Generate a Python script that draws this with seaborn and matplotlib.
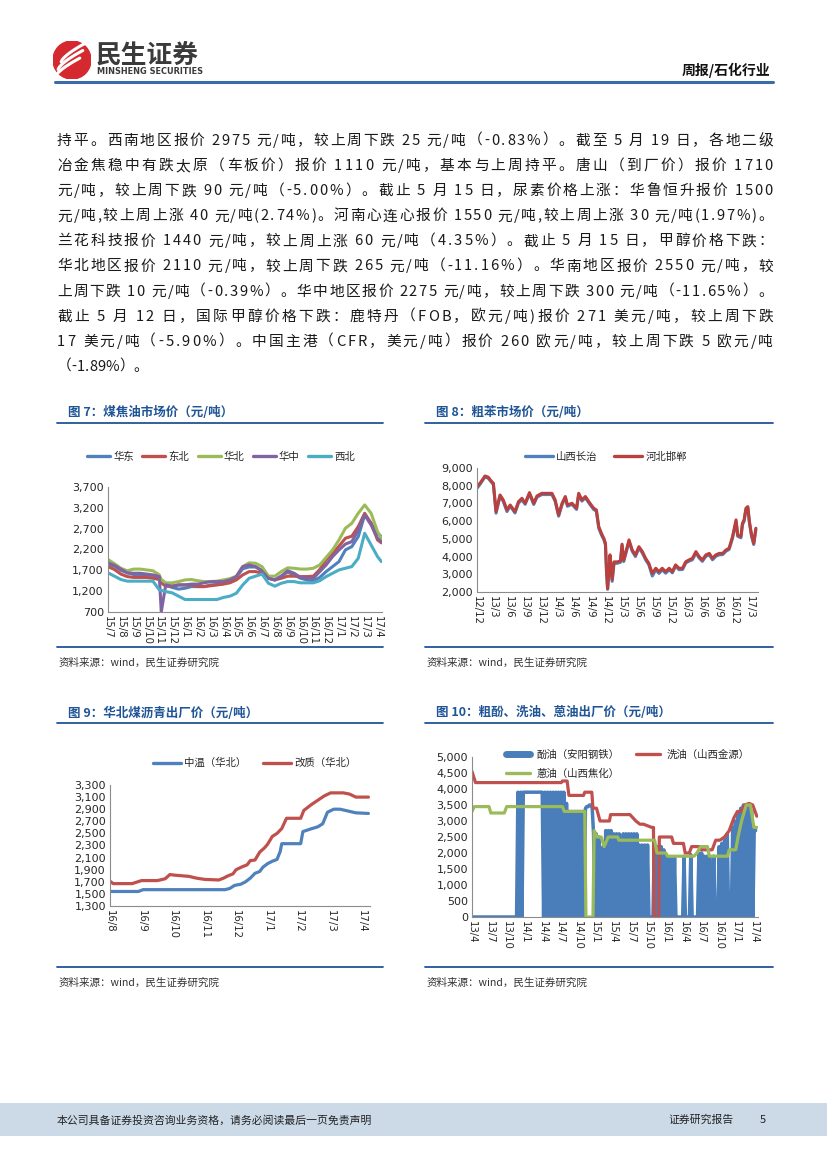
# =============================================================================
# Packages
# =============================================================================
import numpy as np
import matplotlib
matplotlib.use('Agg')
import matplotlib.pyplot as plt
import seaborn as sns
from matplotlib.lines import Line2D
from matplotlib.patches import Circle, Rectangle

# =============================================================================
# Data
# =============================================================================
# Fig 7: coal tar prices, months counted from 2015-07
coal_tar_month = [0, 0.5, 1, 1.5, 2, 2.5, 3, 3.5, 4, 4.15, 4.5, 5, 5.5, 6, 6.5, 7, 7.5, 8, 8.5, 9,
                  9.5, 10, 10.5, 11, 11.5, 12, 12.5, 13, 13.5, 14, 14.5, 15, 15.5, 16, 16.5, 17,
                  17.5, 18, 18.5, 19, 19.5, 20, 20.5, 21, 21.3]
coal_tar_east = [1850, 1800, 1700, 1640, 1600, 1590, 1580, 1580, 1530, 1470, 1350, 1290, 1250, 1270,
                 1310, 1310, 1310, 1350, 1360, 1380, 1430, 1530, 1740, 1780, 1780, 1700, 1510, 1470,
                 1560, 1660, 1590, 1510, 1470, 1450, 1530, 1670, 1790, 1910, 2190, 2270, 2510, 3030,
                 2830, 2590, 2510]
coal_tar_northeast = [1790, 1720, 1610, 1550, 1530, 1530, 1530, 1510, 1480, 1400, 1320, 1320, 1350,
                      1350, 1350, 1310, 1310, 1330, 1350, 1370, 1400, 1470, 1590, 1670, 1670, 1630,
                      1510, 1470, 1510, 1560, 1560, 1550, 1550, 1560, 1720, 1950, 2110, 2280, 2470,
                      2520, 2750, 3070, 2830, 2430, 2360]
coal_tar_north = [1960, 1860, 1750, 1690, 1730, 1730, 1710, 1690, 1590, 1480, 1400, 1400, 1430, 1470,
                  1480, 1450, 1430, 1430, 1440, 1470, 1500, 1560, 1790, 1880, 1870, 1790, 1560, 1560,
                  1670, 1760, 1750, 1730, 1730, 1750, 1830, 2010, 2190, 2430, 2710, 2830, 3070, 3270,
                  3070, 2630, 2470]
coal_tar_central = [1880, 1820, 1730, 1640, 1630, 1630, 1610, 1590, 1550, 700, 1350, 1320, 1350, 1350,
                    1370, 1370, 1400, 1430, 1430, 1430, 1470, 1550, 1790, 1830, 1790, 1680, 1510, 1470,
                    1560, 1690, 1630, 1530, 1510, 1510, 1670, 1830, 2030, 2190, 2330, 2390, 2670, 3030,
                    2790, 2470, 2390]
coal_tar_northwest = [1640, 1560, 1480, 1440, 1440, 1440, 1440, 1440, 1230, 1220, 1190, 1160, 1080,
                      1000, 1000, 1000, 1000, 1000, 1000, 1050, 1080, 1150, 1350, 1510, 1560, 1610,
                      1390, 1320, 1390, 1430, 1430, 1400, 1400, 1400, 1450, 1550, 1630, 1710, 1750,
                      1790, 1990, 2590, 2310, 2030, 1910]

# Fig 8: crude benzene, months counted from 2012-12
benzene_month = [0, 0.56, 1.5, 2.1, 2.75, 3.06, 3.56, 4.3, 4.9, 5.6,
                 6.2, 7.1, 7.75, 8.4, 9.0, 9.8, 10.6, 11.2, 12.1, 13.4,
                 14.0, 14.6, 15.25, 15.9, 16.5, 16.9, 17.75, 18.6, 19.0, 19.6,
                 20.25, 21.1, 21.8, 22.3, 22.75, 23.25, 23.7, 24.0, 24.2, 24.4,
                 24.6, 24.85, 25.25, 25.6, 26.2, 26.8, 27.1, 27.4, 27.75, 28.4,
                 29.0, 29.6, 30.25, 30.9, 31.5, 32.1, 32.75, 33.4, 34.0, 34.6,
                 35.25, 35.9, 36.5, 37.1, 37.75, 38.4, 39.0, 39.6, 40.25, 40.9,
                 41.5, 42.1, 42.75, 43.4, 44.0, 44.6, 45.25, 45.9, 46.5, 47.1,
                 47.75, 48.4, 48.7, 49.3, 49.6, 49.9, 50.25, 50.6, 50.9, 51.3,
                 51.7, 52.1]
benzene_shanxi = [7850, 8080, 8500, 8420, 8180, 8060, 6450, 7400, 7120, 6540,
                  6850, 6460, 7020, 7200, 6950, 7540, 6940, 7350, 7500, 7500,
                  7500, 7120, 6280, 6940, 7320, 6840, 6950, 6660, 7500, 7130,
                  7320, 6940, 6660, 6560, 5600, 5220, 4950, 4650, 3100, 2150,
                  2900, 4000, 2600, 3620, 3620, 3680, 4620, 3720, 4100, 4850,
                  4300, 4000, 4480, 4200, 3820, 3540, 2900, 3250, 3050, 3250,
                  3060, 3260, 3080, 3460, 3260, 3270, 3640, 3740, 3820, 4200,
                  3920, 3730, 4010, 4100, 3820, 4010, 4100, 4110, 4300, 4400,
                  5050, 5980, 5150, 5060, 5800, 5990, 6650, 6740, 5890, 5140,
                  4680, 5520]
benzene_hebei = [7950, 8140, 8550, 8480, 8230, 8140, 6540, 7480, 7200, 6630,
                 6910, 6540, 7100, 7290, 7010, 7610, 7010, 7420, 7570, 7570,
                 7570, 7200, 6350, 7010, 7390, 6910, 7010, 6730, 7570, 7200,
                 7390, 7010, 6730, 6630, 5690, 5310, 5030, 4750, 3200, 2200,
                 3000, 4100, 2700, 3700, 3700, 3750, 4700, 3800, 4180, 4940,
                 4370, 4090, 4560, 4280, 3900, 3620, 3050, 3340, 3150, 3340,
                 3150, 3340, 3150, 3530, 3340, 3340, 3710, 3810, 3900, 4280,
                 4000, 3810, 4090, 4180, 3900, 4090, 4180, 4180, 4370, 4470,
                 5130, 6070, 5220, 5130, 5880, 6070, 6730, 6820, 5970, 5220,
                 4750, 5600]

# Fig 9: coal pitch (North China), months counted from 2016-08
pitch_mid_month = [0, 0.9, 1.05, 3.65, 3.8, 3.95, 4.15, 4.3, 4.45, 4.6, 4.75, 4.85, 5.0, 5.15,
                   5.3, 5.4, 5.45, 6.05, 6.12, 6.35, 6.6, 6.75, 6.9, 7.1, 7.3, 7.55, 7.8, 8.2]
pitch_mid = [1540, 1540, 1570, 1570, 1590, 1640, 1660, 1700, 1760, 1840, 1870, 1940, 2000, 2040,
             2070, 2200, 2330, 2330, 2530, 2570, 2610, 2660, 2850, 2900, 2900, 2870, 2840, 2830]
pitch_mod_month = [0, 0.1, 0.7, 1.0, 1.5, 1.75, 1.9, 2.05, 2.5, 2.75, 3.0, 3.45, 3.6, 3.75, 3.9,
                   4.0, 4.2, 4.35, 4.45, 4.6, 4.75, 4.9, 5.0, 5.15, 5.3, 5.45, 5.6, 6.05, 6.15,
                   6.4, 6.6, 6.8, 7.0, 7.4, 7.6, 7.8, 8.2]
pitch_mod = [1710, 1670, 1670, 1720, 1720, 1750, 1820, 1810, 1790, 1760, 1740, 1730, 1760, 1800,
             1830, 1900, 1950, 1980, 2050, 2060, 2190, 2260, 2320, 2450, 2500, 2580, 2750, 2750,
             2880, 2980, 3050, 3120, 3170, 3170, 3150, 3100, 3100]

# Fig 10: weekly phenol oil from 2013-04 (0 = no quote), wash oil and anthracene oil
phenol_weekly = [0] * 34 + [
    3900, 0, 3900, 0,
    3900, 3900, 3900, 3900, 3900, 3900, 3900, 3900, 3900, 3900, 3900, 3900, 3900, 3900, 3900,
    0, 3900, 0, 3900, 0, 3900, 0, 3900, 0, 3900, 0, 3900, 0, 3900, 0, 3900, 0,
    3550, 0,
    3300, 0, 3300, 0, 3300, 0, 3300, 0,
    3300, 0, 3300, 0, 3400,
    3450, 3450, 3500, 3500, 3400,
    2600, 0, 2600, 0, 2500, 0,
    0, 2200, 0,
    2700, 0, 2700, 0, 2700, 0, 2600, 0, 2600, 0, 2600,
    0, 0, 2600, 0,
    2600, 0, 2600, 0, 2600, 0, 2600, 0, 2600, 0,
    2250, 0, 2250, 0, 2250, 0, 2250, 0,
    0, 0, 0,
    2300, 0, 2200, 0, 0, 2200, 0, 2100, 0,
    1850, 0, 1850, 0, 1850, 0, 1850, 0,
    0, 0, 0, 0, 0,
    1900, 0,
    0, 0, 0, 1950, 0, 0, 0, 0, 0,
    2000, 0, 2000, 0,
    1900, 0, 1900, 0, 1900,
    0, 0, 1900, 0, 0, 0,
    2200, 0, 2300, 0, 2400, 0, 2600, 0,
    0, 0,
    2800, 0, 3000, 0, 3200, 0, 3400, 0, 3500, 0, 3400, 0, 3500, 0, 3300, 0, 2800, 2700]
wash_oil_month = [0, 0.6, 15.2, 15.4, 16.2, 16.5, 19.0, 19.2, 20.4, 20.6, 21.2, 21.8, 23.4, 23.6,
                  26.9, 27.4, 27.9, 28.6, 29.2, 30.6, 30.9, 31.0, 31.8, 31.9, 34.0, 34.3, 36.0,
                  36.3, 37.0, 37.4, 38.8, 39.0, 40.9, 41.5, 42.2, 43.0, 43.8, 44.6, 45.2, 45.8,
                  46.4, 47.2, 47.8, 48.5]
wash_oil = [4550, 4200, 4200, 4250, 4250, 3800, 3800, 3900, 3900, 3400, 3400, 3000, 3000, 3200,
            3200, 3100, 3000, 2900, 2900, 2800, 2800, 0, 0, 2500, 2500, 2300, 2300,
            2000, 2000, 2200, 2200, 2100, 2100, 2400, 2400, 2500, 2700, 3100, 3300, 3300,
            3500, 3550, 3500, 3150]
anthracene_month = [0, 0.4, 2.9, 3.2, 5.5, 5.9, 15.4, 15.7, 19.2, 19.4, 20.6, 20.8, 21.3, 22.0,
                    22.5, 23.2, 24.8, 25.0, 31.1, 31.5, 33.0, 33.3, 37.8, 38.3, 38.9, 40.1, 40.4,
                    43.5, 43.8, 44.9, 45.3, 45.9, 46.7, 47.4, 48.0, 48.5]
anthracene = [3300, 3450, 3450, 3250, 3250, 3450, 3450, 3300, 3300, 0, 0, 2700, 2500, 2500,
              2200, 2500, 2500, 2400, 2400, 2000, 2000, 1900, 1900, 2000, 2200, 2200, 1900,
              1900, 2100, 2100, 2500, 3000, 3500, 3500, 2800, 2800]

body_lines = [
    '持平。西南地区报价 2975 元/吨，较上周下跌 25 元/吨（-0.83%）。截至 5 月 19 日，各地二级',
    '冶金焦稳中有跌太原（车板价）报价 1110 元/吨，基本与上周持平。唐山（到厂价）报价 1710',
    '元/吨，较上周下跌 90 元/吨（-5.00%）。截止 5 月 15 日，尿素价格上涨：华鲁恒升报价 1500',
    '元/吨,较上周上涨 40 元/吨(2.74%)。河南心连心报价 1550 元/吨,较上周上涨 30 元/吨(1.97%)。',
    '兰花科技报价 1440 元/吨，较上周上涨 60 元/吨（4.35%）。截止 5 月 15 日，甲醇价格下跌：',
    '华北地区报价 2110 元/吨，较上周下跌 265 元/吨（-11.16%）。华南地区报价 2550 元/吨，较',
    '上周下跌 10 元/吨（-0.39%）。华中地区报价 2275 元/吨，较上周下跌 300 元/吨（-11.65%）。',
    '截止 5 月 12 日，国际甲醇价格下跌：鹿特丹（FOB，欧元/吨)报价 271 美元/吨，较上周下跌',
    '17 美元/吨（-5.90%）。中国主港（CFR，美元/吨）报价 260 欧元/吨，较上周下跌 5 欧元/吨',
    '（-1.89%）。',
]

# =============================================================================
# Style
# =============================================================================
sns.set_style('white')
plt.rcParams['font.family'] = ['Noto Sans CJK SC', 'DejaVu Sans']
plt.rcParams['axes.unicode_minus'] = False

BLUE, RED, GREEN, PURPLE, CYAN = '#4F81BD', '#C0504D', '#9BBB59', '#8064A2', '#4BACC6'
NAVY = '#1F5596'
W, H = 827, 1169

fig = plt.figure(figsize=(W / 100, H / 100), dpi=100)
renderer = fig.canvas.get_renderer()


def put_axes(x0, y0, x1, y1):
    return fig.add_axes([x0 / W, 1 - y1 / H, (x1 - x0) / W, (y1 - y0) / H])


def put_text(x, y, s, **kw):
    return fig.text(x / W, 1 - y / H, s, **kw)


def put_hline(x0, x1, y, color=NAVY, lw=1.3):
    fig.add_artist(Line2D([x0 / W, x1 / W], [1 - y / H, 1 - y / H], color=color, lw=lw,
                          transform=fig.transFigure))


def month_labels(year, month, positions):
    labels = []
    for p in positions:
        idx = year * 12 + month - 1 + int(p)
        labels.append(f'{idx // 12 % 100}/{idx % 12 + 1}')
    return labels


def char_width(ch, size, cache={}):
    """Pixel width of one character (spaces measured between two letters)."""
    key = (ch, size)
    if key not in cache:
        probe = fig.text(0, 0, f'a{ch}a', fontsize=size)
        w = probe.get_window_extent(renderer).width
        probe.set_text('aa')
        w -= probe.get_window_extent(renderer).width
        probe.remove()
        cache[key] = w
    return cache[key]


def justified_line(x0, x1, y, line, size, justify=True):
    widths = [char_width(c, size) for c in line]
    gap = (x1 - x0 - sum(widths)) / (len(line) - 1) if justify else 0
    x = x0
    for c, w in zip(line, widths):
        if c != ' ':
            put_text(x, y, c, fontsize=size, color='#1A1A1A', va='center')
        x += w + gap


def draw_chart(ax, series, xmax, ylim, yticks, xticks, xlabels):
    for xs, ys, color, lw in series:
        sns.lineplot(x=xs, y=ys, ax=ax, color=color, linewidth=lw, estimator=None,
                     sort=False, legend=False)
    ax.set_xlim(0, xmax)
    ax.set_ylim(*ylim)
    ax.set_yticks(yticks)
    ax.set_yticklabels([f'{v:,}' for v in yticks], fontsize=8, family='DejaVu Sans')
    ax.set_xticks(xticks)
    ax.set_xticklabels(xlabels, rotation=-90, fontsize=7.3, family='DejaVu Sans')
    for s in ['top', 'right']:
        ax.spines[s].set_visible(False)
    for s in ['left', 'bottom']:
        ax.spines[s].set_color('#8C8C8C')
        ax.spines[s].set_linewidth(0.8)
    ax.tick_params(length=0, pad=3)
    ax.set_xlabel('')
    ax.set_ylabel('')
    ax.patch.set_alpha(0)


def panel_frame(x0, x1, y_title, y_bottom, title):
    put_text(x0 + 11, y_title, title, fontsize=9, fontweight='bold', color=NAVY, va='center')
    put_hline(x0, x1, y_title + 10)
    put_hline(x0, x1, y_bottom)
    put_text(x0 + 2, y_bottom + 16, '资料来源：wind，民生证券研究院', fontsize=7.6, color='#333333',
             va='center')


def handle(color, lw=2.4):
    return Line2D([], [], color=color, lw=lw)


# =============================================================================
# Header
# =============================================================================
logo = put_axes(53, 41, 91, 79)
logo.set_xlim(-1, 1)
logo.set_ylim(-1, 1)
logo.set_aspect('equal')
logo.axis('off')
logo.add_patch(Circle((0, 0), 1, color='#D42A2F'))
t = np.linspace(0, 1, 40)
for off in [-0.35, 0.05, 0.45]:
    logo.plot(-0.75 + 1.3 * t + off * 0.4, -0.55 + 1.0 * t ** 0.7 + off, color='white', lw=2.2,
              solid_capstyle='round')
put_text(96, 55, '民生证券', fontsize=18.5, fontweight='bold', color='#3A3A3A', va='center')
put_text(97, 72, 'MINSHENG SECURITIES', fontsize=5.9, fontweight='bold', color='#3A3A3A',
         va='center', family='DejaVu Sans')
put_text(770, 70, '周报/石化行业', fontsize=10, fontweight='bold', color='#111111', ha='right',
         va='center')
put_hline(55, 773, 82, color='#3C6CA8', lw=2.2)

# =============================================================================
# Body text (justified between the page margins)
# =============================================================================
for i, line in enumerate(body_lines):
    justified_line(57, 773, 141 + i * 25.1, line, 10.6, justify=i < len(body_lines) - 1)

# =============================================================================
# Fig 7
# =============================================================================
panel_frame(57, 383, 413, 647, '图 7：煤焦油市场价（元/吨）')
ax7 = put_axes(108, 487, 382, 612)
draw_chart(ax7,
           [(coal_tar_month, coal_tar_east, BLUE, 2.2),
            (coal_tar_month, coal_tar_northeast, RED, 2.2),
            (coal_tar_month, coal_tar_north, GREEN, 2.2),
            (coal_tar_month, coal_tar_central, PURPLE, 2.2),
            (coal_tar_month, coal_tar_northwest, CYAN, 2.2)],
           21.35, (700, 3700), list(range(700, 3701, 500)), list(range(22)),
           month_labels(2015, 7, range(22)))
fig.legend([handle(c) for c in [BLUE, RED, GREEN, PURPLE, CYAN]],
           ['华东', '东北', '华北', '华中', '西北'], loc='center', ncol=5,
           bbox_to_anchor=(221 / W, 1 - 457 / H), bbox_transform=fig.transFigure, frameon=False,
           fontsize=7.5, handlelength=2.2, handletextpad=0.3, columnspacing=0.8)

# =============================================================================
# Fig 8
# =============================================================================
panel_frame(425, 773, 413, 647, '图 8：粗苯市场价（元/吨）')
ax8 = put_axes(477, 468, 758, 592)
draw_chart(ax8,
           [(benzene_month, benzene_shanxi, BLUE, 2.2),
            (benzene_month, benzene_hebei, '#B9403D', 2.2)],
           52.5, (2000, 9000), list(range(2000, 9001, 1000)), list(range(0, 52, 3)),
           month_labels(2012, 12, range(0, 52, 3)))
fig.legend([handle(BLUE), handle('#B9403D')], ['山西长治', '河北邯郸'], loc='center', ncol=2,
           bbox_to_anchor=(606 / W, 1 - 457 / H), bbox_transform=fig.transFigure, frameon=False,
           fontsize=7.5, handlelength=2.7, handletextpad=0.3, columnspacing=1.6)

# =============================================================================
# Fig 9
# =============================================================================
panel_frame(57, 383, 713, 967, '图 9：华北煤沥青出厂价（元/吨）')
ax9 = put_axes(110, 785, 370, 906)
draw_chart(ax9,
           [(pitch_mid_month, pitch_mid, BLUE, 2.3),
            (pitch_mod_month, pitch_mod, RED, 2.3)],
           8.25, (1300, 3300), list(range(1300, 3301, 200)), list(range(9)),
           month_labels(2016, 8, range(9)))
fig.legend([handle(BLUE), handle(RED)], ['中温（华北）', '改质（华北）'], loc='center', ncol=2,
           bbox_to_anchor=(255 / W, 1 - 763 / H), bbox_transform=fig.transFigure, frameon=False,
           fontsize=7.5, handlelength=2.7, handletextpad=0.3, columnspacing=1.6)

# =============================================================================
# Fig 10
# =============================================================================
panel_frame(425, 773, 713, 967, '图 10：粗酚、洗油、蒽油出厂价（元/吨）')
ax10 = put_axes(472, 757, 758, 917)
phenol_month = np.arange(len(phenol_weekly)) * 12 / 52.18
draw_chart(ax10,
           [(phenol_month, phenol_weekly, '#4A7EBB', 2.5),
            (wash_oil_month, wash_oil, RED, 2.3),
            (anthracene_month, anthracene, GREEN, 2.3)],
           48.7, (0, 5000), list(range(0, 5001, 500)), list(range(0, 49, 3)),
           month_labels(2013, 4, range(0, 49, 3)))
fig.legend([handle('#4A7EBB', 5), handle(GREEN), handle(RED)],
           ['酚油（安阳钢铁）', '蒽油（山西焦化）', '洗油（山西金源）'], loc='upper left', ncol=2,
           bbox_to_anchor=(497 / W, 1 - 740 / H), bbox_transform=fig.transFigure, frameon=False,
           fontsize=7.5, handlelength=2.3, handletextpad=0.6, columnspacing=1.6, labelspacing=0.9)

# =============================================================================
# Footer
# =============================================================================
fig.add_artist(Rectangle((0, 1 - 1136 / H), 1, 33 / H, transform=fig.transFigure,
                         facecolor='#CCDAE8', edgecolor='none'))
put_text(57, 1120, '本公司具备证券投资咨询业务资格，请务必阅读最后一页免责声明', fontsize=7.8,
         color='#222222', va='center')
put_text(668, 1120, '证券研究报告', fontsize=7.8, color='#222222', va='center')
put_text(760, 1120, '5', fontsize=8, color='#222222', va='center')

fig.savefig('out.png', dpi=100)
